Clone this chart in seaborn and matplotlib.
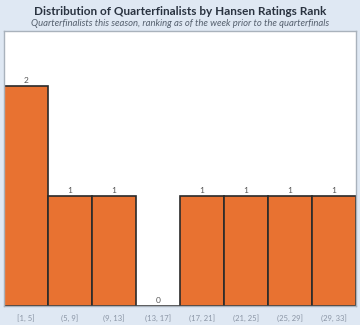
import matplotlib
matplotlib.use("Agg")
import matplotlib.pyplot as plt
import seaborn as sns
import pandas as pd

categories = ["[1, 5]", "(5, 9]", "(9, 13]", "(13, 17]", "(17, 21]", "(21, 25]", "(25, 29]", "(29, 33]"]
counts = [2, 1, 1, 0, 1, 1, 1, 1]

df = pd.DataFrame({"rank": categories, "count": counts})

sns.set_theme(style="white")
plt.rcParams["font.family"] = ["Lato", "DejaVu Sans"]

bg = "#dfe8f3"
fig = plt.figure(figsize=(3.6, 3.25), dpi=100, facecolor=bg)
ax = fig.add_axes([4/360, 1-306/325, 352/360, 275/325])
ax.set_facecolor("white")

sns.barplot(data=df, x="rank", y="count", ax=ax, color="#e87231",
            width=1.0, edgecolor="#2a2a2a", linewidth=1.2, saturation=1)

ax.set_xlim(-0.5, 7.5)
ax.set_ylim(0, 2.5)
ax.set_xlabel("")
ax.set_ylabel("")
ax.set_yticks([])
ax.tick_params(axis="x", length=0, labelsize=5.5, labelcolor="#8a95a5", pad=6)
for s in ax.spines.values():
    s.set_color("#a9b2bc")
    s.set_linewidth(1.0)

for i, c in enumerate(counts):
    ax.text(i, c + 0.02, str(c), ha="center", va="bottom", fontsize=6, color="#555555")

fig.text(0.5, 1-11.5/325, "Distribution of Quarterfinalists by Hansen Ratings Rank",
         ha="center", va="center", fontsize=8.5, fontweight="bold", color="#2a3340")
fig.text(0.5, 1-23.5/325, "Quarterfinalists this season, ranking as of the week prior to the quarterfinals",
         ha="center", va="center", fontsize=6.8, fontstyle="italic", color="#55606e")

fig.savefig("out.png", dpi=100, facecolor=bg)
